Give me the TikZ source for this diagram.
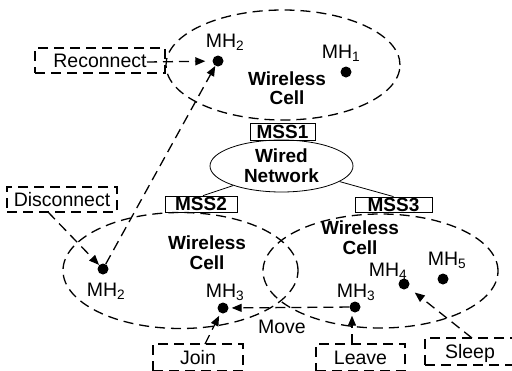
\documentclass[tikz,border=0pt]{standalone}
\usepackage{fontspec}
\setmainfont{Liberation Sans}
\usetikzlibrary{arrows.meta,shapes.geometric}
\begin{document}
\begin{tikzpicture}[x=1pt,y=-1pt,
  dsh/.style={dash pattern=on 10pt off 6pt, line width=1.3pt},
  arr/.style={dsh, -{Triangle[length=10pt,width=8pt]}},
  dot/.style={circle,fill=black,inner sep=0pt,minimum size=11pt},
  txt/.style={font=\fontsize{19.5}{21}\selectfont, inner sep=0pt},
  lbl/.style={txt, anchor=base},
  cellt/.style={txt, align=center},
  evbox/.style={txt, draw, dsh, text height=13pt, text depth=0pt},
  mssbox/.style={draw, line width=0.8pt, inner sep=0pt, font=\bfseries\fontsize{19}{20}\selectfont, text height=13pt, text depth=0pt}
]
\useasboundingbox (0,0) rectangle (512,370);
\clip (0,0) rectangle (512,370);

% cells
\draw[dsh] (283,65) ellipse [x radius=117pt, y radius=55pt];
\draw[dsh] (180.5,270.5) ellipse [x radius=117.5pt, y radius=58pt];
\draw[dsh] (380.5,271) ellipse [x radius=117.5pt, y radius=57pt];

% wired network
\node[draw, ellipse, line width=0.8pt, minimum width=143pt, minimum height=52pt, inner sep=0pt,
      align=center, font=\bfseries\fontsize{19}{20}\selectfont] (wired) at (281.5,166) {Wired\\Network};
\node[mssbox, minimum width=65pt, minimum height=17pt] (mss1) at (282.5,131.5) {MSS1};
\node[mssbox, minimum width=72pt, minimum height=16pt] (mss2) at (201,204) {MSS2};
\node[mssbox, minimum width=77pt, minimum height=15pt] (mss3) at (393.5,204.5) {MSS3};
\draw[line width=0.8pt] (wired.202) -- ([xshift=2pt]mss2.north);
\draw[line width=0.8pt] (wired.345) -- (mss3.north);

% cell labels
\node[cellt, font=\bfseries\fontsize{19}{19}\selectfont] (c1) at (287,88) {Wireless\\Cell};
\node[cellt, font=\bfseries\fontsize{19}{20}\selectfont] (c2) at (207,252.5) {Wireless\\Cell};
\node[cellt, font=\bfseries\fontsize{19}{20}\selectfont] (c3) at (360,237.5) {Wireless\\Cell};

% mobile hosts
\node[dot] (mh1) at (346,72) {};
\node[dot] (mh2a) at (218,61) {};
\node[dot] (mh2b) at (103,269) {};
\node[dot] (mh3a) at (223,308) {};
\node[dot] (mh3b) at (355,307) {};
\node[dot] (mh4) at (404,284) {};
\node[dot] (mh5) at (443,279) {};

\node[lbl] (l1) at (341,58) {MH\textsubscript{1}};
\node[lbl] (l2a) at (225,47) {MH\textsubscript{2}};
\node[lbl] (l2b) at (106,296) {MH\textsubscript{2}};
\node[lbl] (l3a) at (225,297) {MH\textsubscript{3}};
\node[lbl] (l3b) at (356,297) {MH\textsubscript{3}};
\node[lbl] (l4) at (388,276) {MH\textsubscript{4}};
\node[lbl] (l5) at (447,265) {MH\textsubscript{5}};
\node[lbl] (mv) at (282,333) {Move};

% event boxes
\node[evbox, minimum width=130pt, minimum height=25pt] (rec) at (100,60.5) {Reconnect};
\node[evbox, minimum width=110pt, minimum height=25pt] (dis) at (62,199.5) {Disconnect};
\node[evbox, minimum width=90pt, minimum height=27pt] (join) at (198,357.5) {Join};
\node[evbox, minimum width=89pt, minimum height=27pt] (leave) at (360.5,357.5) {Leave};
\node[evbox, minimum width=90pt, minimum height=27pt] (sleep) at (470,351.5) {Sleep};

% arrows
\coordinate (rs) at (147,62);
\coordinate (ds) at (48,212);
\coordinate (js) at (205,344);
\coordinate (ls) at (352,344);
\coordinate (ss) at (472,338);
\draw[arr, shorten >=7pt] (rs) -- (mh2a);
\draw[arr] (mh2b) -- (mh2a);
\draw[arr] (ds) -- (mh2b);
\draw[arr, shorten >=3pt] (mh3b) -- (mh3a);
\draw[arr, shorten >=3pt] (js) -- (mh3a);
\draw[arr, shorten >=3pt] (ls) -- (ls |- mh3b.south);
\draw[arr, shorten >=8pt] (ss) -- (mh4);
\end{tikzpicture}
\end{document}
